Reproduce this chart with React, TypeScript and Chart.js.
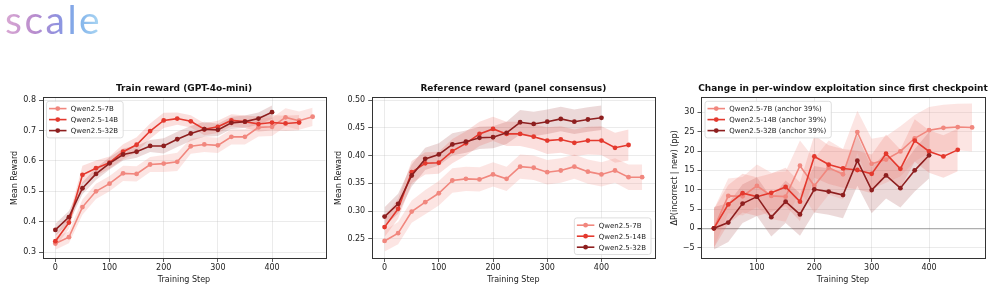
import React, { useEffect, useRef } from "react";
import { Chart, registerables } from "chart.js";
Chart.register(...registerables);

// ---------- data ----------
const SERIES = ["Qwen2.5-7B", "Qwen2.5-14B", "Qwen2.5-32B"];
const ANCHOR_LABELS = ["Qwen2.5-7B (anchor 39%)", "Qwen2.5-14B (anchor 39%)", "Qwen2.5-32B (anchor 39%)"];
const TITLES = ["Train reward (GPT-4o-mini)", "Reference reward (panel consensus)", "Change in per-window exploitation since first checkpoint"];
const COLORS = ["#f1877e", "#e4392e", "#8e1f1f"];
const BAND_COLORS = ["rgba(241,135,126,0.22)", "rgba(228,57,46,0.16)", "rgba(142,31,31,0.17)"];

// Panel 1 & 2 steps
const steps7B = [0, 25, 50, 75, 100, 125, 150, 175, 200, 225, 250, 275, 300, 325, 350, 375, 400, 425, 450, 475];
const steps14B = [0, 25, 50, 75, 100, 125, 150, 175, 200, 225, 250, 275, 300, 325, 350, 375, 400, 425, 450];
const steps32B = [0, 25, 50, 75, 100, 125, 150, 175, 200, 225, 250, 275, 300, 325, 350, 375, 400];

// Train reward (GPT-4o-mini)
const trainR7B = [0.328, 0.349, 0.448, 0.5, 0.525, 0.559, 0.557, 0.588, 0.591, 0.597, 0.648, 0.654, 0.651, 0.679, 0.679, 0.71, 0.712, 0.743, 0.732, 0.745];
const trainR14B = [0.336, 0.397, 0.554, 0.576, 0.594, 0.63, 0.653, 0.698, 0.733, 0.739, 0.73, 0.704, 0.712, 0.733, 0.729, 0.721, 0.726, 0.723, 0.726];
const trainR32B = [0.373, 0.415, 0.51, 0.557, 0.592, 0.621, 0.63, 0.649, 0.649, 0.671, 0.69, 0.704, 0.702, 0.725, 0.729, 0.739, 0.76];
const trainErr7B = [0.02, 0.02, 0.025, 0.025, 0.025, 0.025, 0.025, 0.025, 0.028, 0.03, 0.025, 0.025, 0.025, 0.025, 0.025, 0.03, 0.03, 0.03, 0.03, 0.03];
const trainErr14B = [0.02, 0.02, 0.03, 0.025, 0.02, 0.025, 0.025, 0.025, 0.025, 0.02, 0.02, 0.02, 0.02, 0.02, 0.02, 0.025, 0.025, 0.025, 0.025];
const trainErr32B = [0.02, 0.02, 0.02, 0.02, 0.02, 0.02, 0.02, 0.02, 0.025, 0.025, 0.025, 0.025, 0.02, 0.02, 0.02, 0.02, 0.022];

// Reference reward (panel consensus)
const refR7B = [0.246, 0.26, 0.299, 0.316, 0.332, 0.355, 0.358, 0.357, 0.366, 0.358, 0.38, 0.378, 0.37, 0.373, 0.38, 0.371, 0.366, 0.373, 0.361, 0.361];
const refR14B = [0.271, 0.304, 0.37, 0.386, 0.387, 0.408, 0.422, 0.439, 0.448, 0.439, 0.439, 0.434, 0.427, 0.429, 0.423, 0.427, 0.427, 0.414, 0.419];
const refR32B = [0.29, 0.313, 0.364, 0.394, 0.402, 0.42, 0.425, 0.432, 0.433, 0.441, 0.46, 0.457, 0.461, 0.466, 0.461, 0.465, 0.468];
const refErr7B = [0.019, 0.02, 0.02, 0.022, 0.022, 0.022, 0.022, 0.022, 0.022, 0.022, 0.022, 0.022, 0.022, 0.022, 0.022, 0.022, 0.022, 0.022, 0.023, 0.023];
const refErr14B = [0.018, 0.018, 0.02, 0.02, 0.02, 0.022, 0.022, 0.022, 0.022, 0.022, 0.022, 0.022, 0.024, 0.024, 0.024, 0.025, 0.026, 0.027, 0.028];
const refErr32B = [0.017, 0.018, 0.02, 0.02, 0.02, 0.02, 0.02, 0.02, 0.02, 0.02, 0.022, 0.022, 0.022, 0.022, 0.022, 0.022, 0.022];

// Change in per-window exploitation
const explSteps7B = [25, 50, 75, 100, 125, 150, 175, 200, 225, 250, 275, 300, 325, 350, 375, 400, 425, 450, 475];
const explSteps14B = [25, 50, 75, 100, 125, 150, 175, 200, 225, 250, 275, 300, 325, 350, 375, 400, 425, 450];
const explSteps32B = [25, 50, 75, 100, 125, 150, 175, 200, 225, 250, 275, 300, 325, 350, 375, 400];
const expl7B = [0, 8.4, 8.3, 11.0, 8.4, 8.2, 16.2, 11.0, 15.7, 14.0, 24.9, 16.7, 17.8, 19.9, 23.3, 25.4, 26.0, 26.2, 26.1];
const expl14B = [0, 6.2, 9.1, 8.2, 9.2, 10.7, 6.9, 18.6, 16.5, 15.5, 15.1, 14.1, 19.3, 15.4, 22.7, 19.9, 18.6, 20.3];
const expl32B = [0, 1.5, 6.4, 8.2, 2.9, 6.9, 3.6, 10.1, 9.5, 8.6, 17.5, 9.9, 13.7, 10.4, 15.0, 18.9];
const explErr7B = [5, 4.5, 5, 5.5, 6, 6.5, 6.5, 7, 7, 6.5, 5.5, 6.5, 6, 6.5, 6, 6, 6, 6, 6.2];
const explErr14B = [5, 5, 5, 5, 5, 5, 5, 5.5, 5, 5, 5, 5, 5, 5, 5.5, 5.5, 5.5, 5.5];
const explErr32B = [5.5, 5, 5, 5, 5, 5.5, 5.5, 6, 6, 6, 6.5, 6, 6, 5, 5.5, 6];

// ticks
const stepTicks = [0, 100, 200, 300, 400];
const explStepTicks = [100, 200, 300, 400];
const trainYTicks = [0.3, 0.4, 0.5, 0.6, 0.7, 0.8];
const refYTicks = [0.25, 0.3, 0.35, 0.4, 0.45, 0.5];
const explYTicks = [-5, 0, 5, 10, 15, 20, 25, 30];

// ---------- helpers ----------
const FONT = "DejaVu Sans";

function seriesDatasets(xs: number[], ys: number[], errs: number[], i: number) {
  const color = COLORS[i];
  const upper = xs.map((x, k) => ({ x, y: ys[k] + errs[k] }));
  const lower = xs.map((x, k) => ({ x, y: ys[k] - errs[k] }));
  const line = xs.map((x, k) => ({ x, y: ys[k] }));
  return {
    bands: [
      { label: "_u" + i, data: upper, borderWidth: 0, pointRadius: 0, fill: false, order: 10, backgroundColor: BAND_COLORS[i], borderColor: "transparent" },
      { label: "_l" + i, data: lower, borderWidth: 0, pointRadius: 0, fill: "-1", order: 10, backgroundColor: BAND_COLORS[i], borderColor: "transparent" },
    ],
    line: {
      label: SERIES[i],
      data: line,
      borderColor: color,
      backgroundColor: color,
      borderWidth: 1.6,
      pointRadius: 2.4,
      pointBorderWidth: 0,
      pointBackgroundColor: color,
      fill: false,
      order: 2 - i,
    },
  };
}

const frameLegend = {
  id: "frameLegend",
  afterDraw(chart: any, _args: any, opts: any) {
    const { ctx, chartArea } = chart;
    ctx.save();
    const ca = chartArea;
    ctx.strokeStyle = "#333";
    ctx.lineWidth = 1;
    ctx.strokeRect(Math.round(ca.left) + 0.5, Math.round(ca.top) + 0.5, Math.round(ca.right - ca.left), Math.round(ca.bottom - ca.top));

    // panel title, centred over the plotting area
    if (opts.title) {
      ctx.font = `bold 9px "${FONT}"`;
      ctx.fillStyle = "#111";
      ctx.textAlign = "center";
      ctx.textBaseline = "middle";
      ctx.fillText(opts.title, (ca.left + ca.right) / 2, 14);
    }

    const labels: string[] = opts.labels || [];
    if (labels.length) {
      ctx.font = `7px "${FONT}"`;
      const tw = Math.max(...labels.map((l) => ctx.measureText(l).width));
      const padL = 2.5, lineLen = 17.5, gap = 4.3, padR = 5, rowH = 11, padY = 1.8;
      const w = padL + lineLen + gap + tw + padR;
      const h = rowH * labels.length + padY * 2;
      const inset = 4;
      let x0: number, y0: number;
      if (opts.pos === "br") {
        x0 = ca.right - inset - w;
        y0 = ca.bottom - inset - h;
      } else {
        x0 = ca.left + inset;
        y0 = ca.top + inset;
      }
      ctx.beginPath();
      const r = 2.5;
      ctx.moveTo(x0 + r, y0);
      ctx.arcTo(x0 + w, y0, x0 + w, y0 + h, r);
      ctx.arcTo(x0 + w, y0 + h, x0, y0 + h, r);
      ctx.arcTo(x0, y0 + h, x0, y0, r);
      ctx.arcTo(x0, y0, x0 + w, y0, r);
      ctx.closePath();
      ctx.fillStyle = "rgba(255,255,255,0.85)";
      ctx.fill();
      ctx.strokeStyle = "#d6d6d6";
      ctx.lineWidth = 0.8;
      ctx.stroke();
      labels.forEach((lab, k) => {
        const cy = y0 + padY + rowH * k + rowH / 2;
        const c = COLORS[k];
        ctx.strokeStyle = c;
        ctx.lineWidth = 1.6;
        ctx.beginPath();
        ctx.moveTo(x0 + padL, cy);
        ctx.lineTo(x0 + padL + lineLen, cy);
        ctx.stroke();
        ctx.fillStyle = c;
        ctx.beginPath();
        ctx.arc(x0 + padL + lineLen / 2, cy, 2.4, 0, Math.PI * 2);
        ctx.fill();
        ctx.fillStyle = "#222";
        ctx.textBaseline = "middle";
        ctx.textAlign = "left";
        ctx.fillText(lab, x0 + padL + lineLen + gap, cy + 0.5);
      });
    }
    ctx.restore();
  },
};

interface PanelCfg {
  title: string;
  yTitle: string;
  datasets: any[];
  xMin: number;
  xMax: number;
  yMin: number;
  yMax: number;
  xTicks: number[];
  yTicks: number[];
  yFmt: (v: number) => string;
  yAxisWidth: number;
  yTitlePad: number;
  padRight: number;
  legendLabels: string[];
  legendPos: string;
  zeroLine?: boolean;
}

const GRID = "rgba(176,176,176,0.32)";

function buildConfig(p: PanelCfg): any {
  return {
    type: "line",
    data: { datasets: p.datasets },
    plugins: [frameLegend],
    options: {
      animation: false,
      responsive: false,
      maintainAspectRatio: false,
      devicePixelRatio: 1,
      layout: { padding: { left: 0, right: p.padRight, top: 22.3, bottom: 0 } },
      plugins: {
        legend: { display: false },
        tooltip: { enabled: false },
        title: { display: false },
        frameLegend: { labels: p.legendLabels, pos: p.legendPos, title: p.title },
      },
      scales: {
        x: {
          type: "linear",
          min: p.xMin,
          max: p.xMax,
          afterBuildTicks: (s: any) => {
            s.ticks = p.xTicks.map((v) => ({ value: v }));
          },
          afterFit: (s: any) => {
            s.height = 32.5;
          },
          border: { display: false },
          grid: { color: GRID, lineWidth: 0.8, tickColor: "#333", tickLength: 3.5, drawTicks: true },
          ticks: { color: "#222", font: { family: FONT, size: 8 }, padding: 1, maxRotation: 0, callback: (v: any) => String(v) },
          title: { display: true, text: "Training Step", color: "#222", font: { family: FONT, size: 8 }, padding: { top: 0, bottom: 6.5 } },
        },
        y: {
          type: "linear",
          min: p.yMin,
          max: p.yMax,
          afterBuildTicks: (s: any) => {
            s.ticks = p.yTicks.map((v) => ({ value: v }));
          },
          afterFit: (s: any) => {
            s.width = p.yAxisWidth;
          },
          border: { display: false },
          grid: {
            color: (ctx: any) => (p.zeroLine && ctx.tick && ctx.tick.value === 0 ? "rgba(120,120,120,0.6)" : GRID),
            lineWidth: (ctx: any) => (p.zeroLine && ctx.tick && ctx.tick.value === 0 ? 1.3 : 0.8),
            tickColor: "#333",
            tickLength: 3.5,
            drawTicks: true,
          },
          ticks: { color: "#222", font: { family: FONT, size: 8 }, padding: 3, callback: (v: any) => p.yFmt(Number(v)) },
          title: { display: true, text: p.yTitle, color: "#222", font: { family: FONT, size: 8 }, padding: { top: p.yTitlePad, bottom: 0 } },
        },
      },
    },
  };
}

function makeDatasets(groups: [number[], number[], number[]][]) {
  const bands: any[] = [];
  const lines: any[] = [];
  groups.forEach(([xs, ys, es], i) => {
    const d = seriesDatasets(xs, ys, es, i);
    bands.push(...d.bands);
    lines.push(d.line);
  });
  return [...bands, ...lines];
}

const panels: { left: number; width: number; cfg: PanelCfg }[] = [
  {
    left: 0,
    width: 332,
    cfg: {
      title: TITLES[0],
      yTitle: "Mean Reward",
      datasets: makeDatasets([
        [steps7B, trainR7B, trainErr7B],
        [steps14B, trainR14B, trainErr14B],
        [steps32B, trainR32B, trainErr32B],
      ]),
      xMin: -23.75,
      xMax: 498.75,
      yMin: 0.279,
      yMax: 0.809,
      xTicks: stepTicks,
      yTicks: trainYTicks,
      yFmt: (v) => v.toFixed(1),
      yAxisWidth: 42.5,
      yTitlePad: 10.2,
      padRight: 6.5,
      legendLabels: SERIES,
      legendPos: "tl",
    },
  },
  {
    left: 332,
    width: 330,
    cfg: {
      title: TITLES[1],
      yTitle: "Mean Reward",
      datasets: makeDatasets([
        [steps7B, refR7B, refErr7B],
        [steps14B, refR14B, refErr14B],
        [steps32B, refR32B, refErr32B],
      ]),
      xMin: -23.75,
      xMax: 498.75,
      yMin: 0.2144,
      yMax: 0.505,
      xTicks: stepTicks,
      yTicks: refYTicks,
      yFmt: (v) => v.toFixed(2),
      yAxisWidth: 39.7,
      yTitlePad: 2.2,
      padRight: 7,
      legendLabels: SERIES,
      legendPos: "br",
    },
  },
  {
    left: 662,
    width: 335,
    cfg: {
      title: TITLES[2],
      yTitle: "ΔP(incorrect | new) (pp)",
      datasets: makeDatasets([
        [explSteps7B, expl7B, explErr7B],
        [explSteps14B, expl14B, explErr14B],
        [explSteps32B, expl32B, explErr32B],
      ]),
      xMin: 2.5,
      xMax: 497.5,
      yMin: -7.8,
      yMax: 33.9,
      xTicks: explStepTicks,
      yTicks: explYTicks,
      yFmt: (v) => (v < 0 ? "\u2212" + Math.abs(v) : String(v)),
      yAxisWidth: 39,
      yTitlePad: 8.2,
      padRight: 12,
      legendLabels: ANCHOR_LABELS,
      legendPos: "tl",
      zeroLine: true,
    },
  },
];

const TOP = 75;
const HEIGHT = 216;

function Panel({ left, width, cfg }: { left: number; width: number; cfg: PanelCfg }) {
  const ref = useRef<HTMLCanvasElement>(null);
  useEffect(() => {
    const chart = new Chart(ref.current as HTMLCanvasElement, buildConfig(cfg));
    return () => chart.destroy();
  }, []);
  return (
    <canvas
      ref={ref}
      width={width}
      height={HEIGHT}
      style={{ position: "absolute", left, top: TOP, width, height: HEIGHT }}
    />
  );
}

export default function App() {
  return (
    <div style={{ position: "absolute", left: 0, top: 0, width: 997, height: 291, background: "#fff", overflow: "hidden" }}>
      <div
        style={{
          position: "absolute",
          left: 5,
          top: 0,
          fontFamily: "Lato, 'Open Sans', sans-serif",
          fontWeight: 400,
          fontSize: 39,
          lineHeight: "38px",
          letterSpacing: 2.5,
          background: "linear-gradient(90deg, #d9a8d3 0%, #b98ccd 30%, #8f92e0 55%, #7fb0ea 75%, #b0dbf4 100%)",
          WebkitBackgroundClip: "text",
          backgroundClip: "text",
          color: "transparent",
          WebkitTextFillColor: "transparent",
        }}
      >
        scale
      </div>
      {panels.map((p, i) => (
        <Panel key={i} left={p.left} width={p.width} cfg={p.cfg} />
      ))}
    </div>
  );
}
